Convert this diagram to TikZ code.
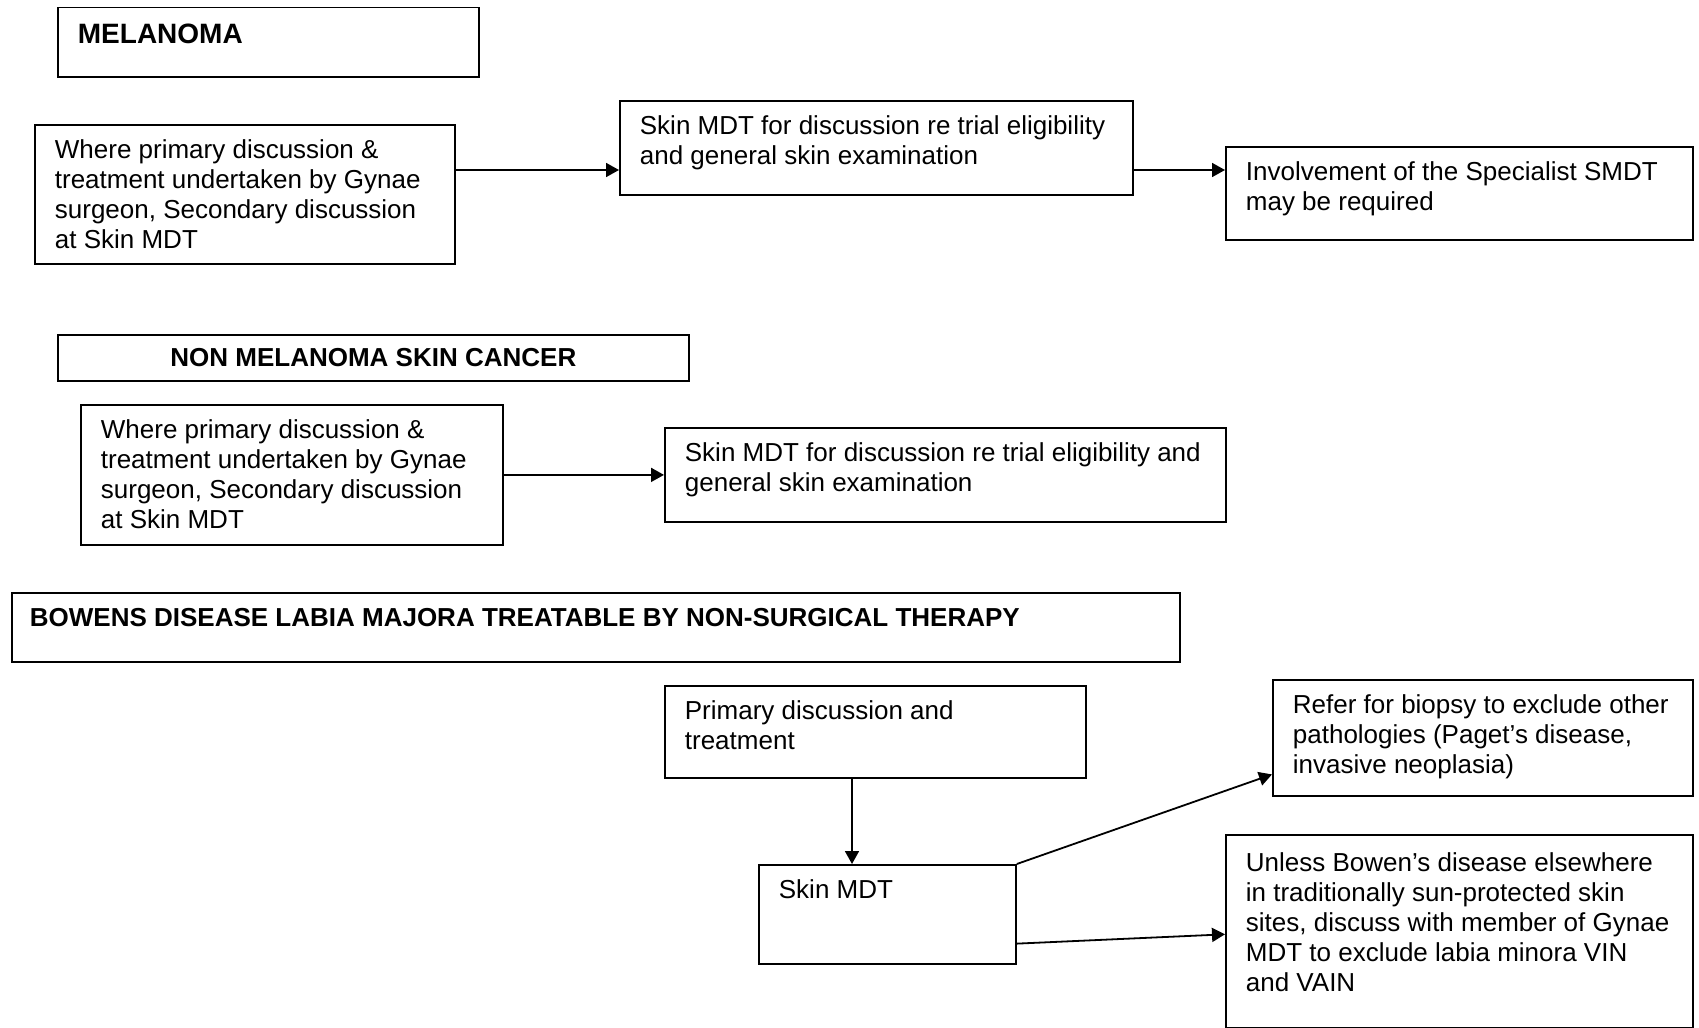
\documentclass[tikz,border=0pt]{standalone}
\usepackage{fontspec}
\setmainfont{Liberation Sans}
\usepackage{tikz}
\usetikzlibrary{arrows.meta, positioning, calc}
\newcommand{\boxtxt}[3]{\parbox[b][#2][t]{#1}{\raggedright #3}}

\begin{document}
\begin{tikzpicture}[x=0.5pt, y=-0.5pt,
    box/.style={draw, line width=0.9pt, inner xsep=10pt, inner ysep=7.5pt, anchor=north west, font=\fontsize{13}{15}\selectfont},
    headbox/.style={box, font=\fontsize{13}{15}\selectfont\bfseries},
    arr/.style={-{Triangle[length=6.5pt, width=7pt]}, line width=0.9pt}]
        \useasboundingbox (0,0) rectangle (1699,1028);

        % Melanoma
        \node[headbox, font=\fontsize{14}{16}\selectfont\bfseries] (mel) at (57,6.5) {\boxtxt{190.5pt}{19.75pt}{\vspace{1pt}MELANOMA}};
        \node[box] (a1) at (34,124) {\boxtxt{190pt}{54.5pt}{Where primary discussion \&\\ treatment undertaken by Gynae\\ surgeon, Secondary discussion\\ at Skin MDT}};
        \node[box] (a2) at (619,100) {\boxtxt{236.5pt}{32pt}{Skin MDT for discussion re trial eligibility\\ and general skin examination}};
        \node[box] (a3) at (1225,146) {\boxtxt{213.5pt}{31.5pt}{Involvement of the Specialist SMDT\\ may be required}};
        \coordinate (ya) at (0,170);
        \draw[arr] (a1.east |- ya) -- (a2.west |- ya);
        \draw[arr] (a2.east |- ya) -- (a3.west |- ya);

        % Non melanoma skin cancer
        \node[headbox, anchor=north west, minimum width=315.5pt, minimum height=23pt, inner sep=0pt] (nmel) at (57,334) {NON MELANOMA SKIN CANCER};
        \node[box] (b1) at (80,404) {\boxtxt{191pt}{55pt}{Where primary discussion \&\\ treatment undertaken by Gynae\\ surgeon, Secondary discussion\\ at Skin MDT}};
        \node[box] (b2) at (664,427) {\boxtxt{260.5pt}{32pt}{Skin MDT for discussion re trial eligibility and\\ general skin examination}};
        \draw[arr] (b1.east) -- (b2.west);

        % Bowens disease
        \node[headbox, inner xsep=9pt] (bow) at (11,592) {\boxtxt{566pt}{19.5pt}{BOWENS DISEASE LABIA MAJORA TREATABLE BY NON-SURGICAL THERAPY}};
        \node[box] (c1) at (664,685) {\boxtxt{190.5pt}{31pt}{Primary discussion and\\ treatment}};
        \node[box] (c2) at (758,864) {\boxtxt{108.5pt}{34.5pt}{Skin MDT}};
        \node[box] (c3) at (1272,679) {\boxtxt{190pt}{43pt}{Refer for biopsy to exclude other\\ pathologies (Paget's disease,\\ invasive neoplasia)}};
        \node[box] (c4) at (1225,834) {\boxtxt{213.5pt}{81.5pt}{\vspace{1.5pt}Unless Bowen's disease elsewhere\\ in traditionally sun-protected skin\\ sites, discuss with member of Gynae\\ MDT to exclude labia minora VIN\\ and VAIN}};
        \coordinate (xc) at (852,0);
        \draw[arr] (c1.south -| xc) -- (c2.north -| xc);
        \draw[arr] (c2.north east) -- ($(c3.north west)!0.81!(c3.south west)$);
        \draw[arr] ($(c2.north east)!0.79!(c2.south east)$) -- ($(c4.north west)!0.515!(c4.south west)$);
\end{tikzpicture}
\end{document}
